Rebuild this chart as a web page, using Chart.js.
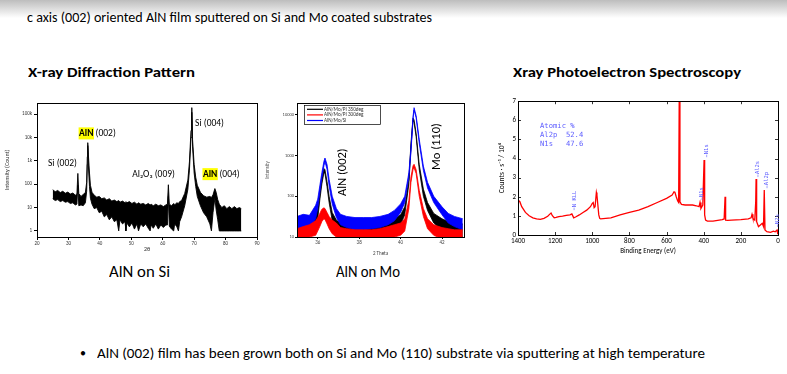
<!DOCTYPE html>
<html><head><meta charset="utf-8">
<script src="https://cdn.jsdelivr.net/npm/chart.js@4.4.1/dist/chart.umd.min.js"></script>
<style>
html,body{margin:0;padding:0;background:#fff;}
body{width:787px;height:374px;position:relative;overflow:hidden;font-family:Carlito,Lato,"Open Sans",sans-serif;color:#000;}
.topbar{position:absolute;left:0;top:0;width:787px;height:18px;background:linear-gradient(#bdbdbd,#ffffff);}
.t{position:absolute;white-space:nowrap;line-height:1;transform-origin:0 50%;}
canvas{position:absolute;}
</style></head>
<body>
<div class="topbar"></div>
<div class="t" data-w="405" style="left:27px;top:11px;font-size:14px;">c axis (002) oriented AlN film sputtered on Si and Mo coated substrates</div>
<div class="t" data-w="167" style="left:28px;top:66px;font-size:14px;font-weight:bold;">X-ray Diffraction Pattern</div>
<div class="t" data-w="228" style="left:513px;top:66px;font-size:14px;font-weight:bold;">Xray Photoelectron Spectroscopy</div>
<div class="t" data-w="61" style="left:109px;top:264px;font-size:16px;">AlN on Si</div>
<div class="t" data-w="64" style="left:336px;top:264px;font-size:16px;">AlN on Mo</div>
<div class="t" style="left:80px;top:347px;font-size:12px;">•</div>
<div class="t" data-w="608" style="left:97px;top:347px;font-size:14px;">AlN (002) film has been grown both on Si and Mo (110) substrate via sputtering at high temperature</div>
<canvas id="c1" width="265" height="170" style="left:0;top:95px"></canvas>
<canvas id="c2" width="216" height="170" style="left:262px;top:95px"></canvas>
<canvas id="c3" width="297" height="170" style="left:490px;top:95px"></canvas>
<script>
// ---------- XRD: AlN on Si (noise band given as upper / lower envelope) ----------
const siX      = [25,25.8,26.6,27.4,28.2,29,29.8,30.6,31.4,32.2,32.7,33.0,33.3,34,34.7,35.4,35.8,36.0,36.15,36.35,36.7,37.0,37.5,38.2,39,39.8,40.6,41.4,42.2,43,43.8,44.6,45.4,46,46.4,47.2,48,48.3,48.6,49.4,50.2,51,51.8,52.3,53,53.8,54.6,55.4,56,56.3,57,57.8,58.6,59.4,60.2,61,61.5,61.8,62.1,62.8,63.5,63.8,64.5,65,65.4,66,67,68,68.5,69.0,69.25,69.5,70,70.5,71,72,73,74,75,75.5,76,76.6,77,77.5,78,78.8,79.6,80.4,81.2,82,82.8,83.6,84.4,85];
const siUpper  = [58,48,54,44,50,41,46,38,42,34,38,290,40,30,36,45,120,1500,6000,1800,300,90,45,34,28,30,24,26,21,24,19,21,18,20,17,19,16,18,16,18,15,17,14,16,14,15,13,15,13,14,12,14,12,13,11,13,14,95,14,12,15,13,16,15,18,20,40,150,900,20000,190000,8000,700,200,90,45,32,28,30,27,35,65,45,22,14,10,12,9,11,9,11,9,10,9];
const siLower  = [24,20,22,18,20,17,18,15,16,13,14,90,12,13,12,16,50,700,4500,600,80,25,14,9,10,6,7,4,5,3,4,2.5,3,1,3,2,2.5,1,2.2,1.5,2.2,1.2,2,1,2,1.5,2,1.3,1,1.8,1.3,2,1.2,1.8,1.4,1.8,1.8,30,1.6,1.2,1,2,1.5,1,2.5,4,12,60,400,10000,120000,4000,300,80,30,12,6,4,2,1,6,25,8,3,1,1,1,1,1,1,1,1,1,1];
const siXTicks = [20,30,40,50,60,70,80,90];
const siYTicks = [1,10,100,1000,10000,100000];
const siYTickLabels = ['1','10','100','1k','10k','100k'];
const siNotes = [
  {hl:'', t:'Si (002)', x:23.5, y:780},
  {hl:'AlN', t:' (002)', x:33.4, y:15000},
  {hl:'', t:'Si (004)', x:70.3, y:40000},
  {hl:'', t:'Al\u2082O\u2083 (009)', x:50.3, y:270},
  {hl:'AlN', t:' (004)', x:72.8, y:270}
];

// ---------- XRD: AlN on Mo ----------
const moX        = [35.0,35.3,35.6,35.9,36.0,36.1,36.2,36.3,36.35,36.45,36.55,36.7,36.9,37.1,37.4,37.8,38.2,38.6,39.0,39.4,39.7,40.0,40.2,40.4,40.5,40.6,40.65,40.75,40.9,41.1,41.3,41.6,42.0,42.3,42.6,43.0];
const blackUpper = [24,25,24,35,50,120,280,480,450,230,100,40,26,22,22,21,21,22,22,25,28,35,55,260,2000,8300,7500,3500,600,150,70,38,28,24,22,21];
const blackLower = [11,11,11,16,28,80,200,380,360,170,70,25,14,11,10,10,10,10,11,12,14,20,35,200,1600,7300,6500,2900,450,100,45,22,14,12,11,10];
const redUpper   = [16,18,20,25,30,38,48,52,50,40,32,26,22,17,16,15,15,15,16,18,20,22,28,80,300,560,610,450,140,50,28,20,17,16,15,15];
const redLower   = [9,9,10,11,14,18,24,28,27,21,16,12,10,9,9,9,9,9,9,9,10,11,14,50,220,450,500,360,100,32,16,11,9,9,9,9];
const blueUpper  = [32,36,34,60,85,180,380,720,870,600,260,100,50,36,32,30,30,30,32,36,45,65,100,380,1500,9000,15000,9500,2500,550,220,100,55,38,32,28];
const blueLower  = [15,16,15,28,50,120,280,560,700,460,180,65,30,20,17,15,15,16,17,20,25,40,70,300,1200,8000,13000,8500,2000,430,160,70,35,22,18,15];
const moSeries   = ['AlN/Mo/PI 350deg','AlN/Mo/PI 300deg','AlN/Mo/Si'];
const moColors   = ['#000000','#ff0000','#0000ff'];
const moXTicks   = [36,38,40,42];
const moYTicks   = [10,100,1000,10000];
const moYTickLabels = ['10','100','1000','10000'];
const moNotes = [{t:'AlN (002)', x:37.2, y:390},{t:'Mo (110)', x:41.76, y:1660}];

// ---------- XPS survey ----------
const xpsE = [1400,1390,1380,1360,1340,1320,1300,1280,1260,1240,1230,1222,1215,1205,1195,1180,1160,1140,1120,1110,1105,1100,1090,1070,1050,1030,1010,1000,995,990,985,978,975,970,965,960,955,900,850,800,750,700,650,600,570,560,555,548,540,535,532,528,520,500,460,440,425,420,415,405,398,395,390,380,350,300,290,285,282,270,250,200,160,145,140,135,125,120,118,115,105,95,85,78,74,70,60,40,25,15,5,2,0];
const xpsCounts = [1.83,1.74,1.48,1.18,1.01,0.9,0.84,0.82,0.87,0.98,1.08,1.15,1.01,0.9,0.92,0.96,0.99,1.03,1.05,1.1,1.0,0.9,0.94,1.05,1.18,1.3,1.48,1.65,1.7,1.43,1.48,2.23,2.09,1.57,1.05,0.87,0.84,0.9,1.05,1.18,1.3,1.48,1.7,1.92,2.09,2.26,2.23,2.0,1.78,1.7,6.97,1.74,1.6,1.57,1.57,1.53,1.48,1.7,1.39,1.57,3.92,1.05,0.78,0.73,0.73,0.8,0.84,2.0,0.78,0.77,0.78,0.8,0.84,0.9,1.08,0.87,0.78,1.74,2.93,0.7,0.44,0.52,0.61,0.44,2.35,0.26,0.17,0.14,0.2,0.17,0.26,0.08,0.05];
const xpsPeakLabels = [
  {t:'N KLL', e:1098, y:1.3},
  {t:'N1s', e:409, y:1.83},
  {t:'N1s', e:384, y:4.07},
  {t:'Al2s', e:108, y:3.03},
  {t:'Al2p', e:59, y:2.45},
  {t:'N2s', e:2, y:0.42}
];
const xpsAtomic = ['Atomic %','Al2p  52.4','N1s   47.6'];

// fit slide text widths
document.querySelectorAll('.t[data-w]').forEach(el=>{
  const w = el.getBoundingClientRect().width;
  el.style.transform = 'scaleX(' + (parseFloat(el.dataset.w)/w) + ')';
});

const FONT = 'Carlito, Lato, "Open Sans", sans-serif';
const frame = {id:'frame', afterDraw(chart){
  const {ctx, chartArea:a} = chart; ctx.save(); ctx.strokeStyle='#000'; ctx.lineWidth=1;
  ctx.strokeRect(Math.round(a.left)+0.5, Math.round(a.top)+0.5, Math.round(a.right-a.left), Math.round(a.bottom-a.top));
  ctx.restore();
}};
function pts(xs, ys){ return xs.map((x,i)=>({x:x, y:ys[i]})); }
function band(xs, up, lo, color, order, bw){
  return [
    {data:pts(xs,up), borderColor:color, backgroundColor:color, borderWidth:bw, pointRadius:0, fill:'+1', order:order, tension:0},
    {data:pts(xs,lo), borderColor:color, backgroundColor:color, borderWidth:bw, pointRadius:0, fill:false, order:order, tension:0}
  ];
}
const common = {animation:false, responsive:false, events:[], plugins:{legend:{display:false}, tooltip:{enabled:false}}};

// ---------- Chart 1 ----------
new Chart(document.getElementById('c1'), {
  type:'line',
  data:{datasets: band(siX, siUpper, siLower, '#000', 0, 0.9)},
  options:Object.assign({}, common, {
    layout:{padding:{left:0,right:8,top:8,bottom:0}},
    scales:{
      x:{type:'linear', min:20, max:90,
         afterBuildTicks(s){ s.ticks = siXTicks.map(v=>({value:v})); },
         afterFit(s){ s.height = 28; },
         grid:{drawOnChartArea:false, tickLength:3, color:'#000'}, border:{color:'#000'},
         ticks:{font:{size:5, family:FONT}, color:'#333', padding:1, maxRotation:0},
         title:{display:true, text:'2\u03b8', font:{size:6, family:FONT}, color:'#333', padding:{top:0,bottom:12}}},
      y:{type:'logarithmic', min:0.55, max:300000,
         afterBuildTicks(s){ s.ticks = siYTicks.map(v=>({value:v})); },
         afterFit(s){ s.width = 37; },
         grid:{drawOnChartArea:false, tickLength:3, color:'#000'}, border:{color:'#000'},
         ticks:{font:{size:5, family:FONT}, color:'#333', padding:2, callback:(v,i)=>siYTickLabels[i]},
         title:{display:true, text:'Intensity (Count)', font:{size:6, family:FONT}, color:'#333', padding:{top:4,bottom:0}}}
    }
  }),
  plugins:[frame, {id:'siNotes', afterDatasetsDraw(chart){
    const {ctx, scales:{x,y}} = chart; ctx.save(); ctx.textBaseline='middle';
    siNotes.forEach(n=>{
      let px = x.getPixelForValue(n.x), py = y.getPixelForValue(n.y);
      if(n.hl){
        ctx.font = 'bold 9.5px ' + FONT;
        const w = ctx.measureText(n.hl).width;
        ctx.fillStyle = '#ffff00'; ctx.fillRect(px-0.5, py-6, w+1, 12);
        ctx.fillStyle = '#000'; ctx.fillText(n.hl, px, py); px += w;
      }
      ctx.font = '9.5px ' + FONT; ctx.fillStyle = '#000'; ctx.fillText(n.t, px, py);
    });
    ctx.restore();
  }}]
});

// ---------- Chart 2 ----------
new Chart(document.getElementById('c2'), {
  type:'line',
  data:{datasets: [].concat(
    band(moX, blackUpper, blackLower, moColors[0], 2, 0.8),
    band(moX, redUpper, redLower, moColors[1], 0, 0.8),
    band(moX, blueUpper, blueLower, moColors[2], 1, 0.8))},
  options:Object.assign({}, common, {
    layout:{padding:{left:0,right:14,top:8,bottom:0}},
    scales:{
      x:{type:'linear', min:35, max:43.06,
         afterBuildTicks(s){ s.ticks = moXTicks.map(v=>({value:v})); },
         afterFit(s){ s.height = 28; },
         grid:{drawOnChartArea:false, tickLength:2, color:'#000'}, border:{color:'#000'},
         ticks:{font:{size:5, family:FONT}, color:'#444', padding:1, maxRotation:0},
         title:{display:true, text:'2 Theta', font:{size:5, family:FONT}, color:'#444', padding:{top:0,bottom:8}}},
      y:{type:'logarithmic', min:10, max:19500,
         afterBuildTicks(s){ s.ticks = moYTicks.map(v=>({value:v})); },
         afterFit(s){ s.width = 35; },
         grid:{drawOnChartArea:false, tickLength:2, color:'#000'}, border:{color:'#000'},
         ticks:{font:{size:4.5, family:FONT}, color:'#444', padding:1, callback:(v,i)=>moYTickLabels[i]},
         title:{display:true, text:'Intensity', font:{size:5, family:FONT}, color:'#444', padding:{top:3,bottom:0}}}
    }
  }),
  plugins:[frame, {id:'moNotes', afterDatasetsDraw(chart){
    const {ctx, chartArea:a, scales:{x,y}} = chart; ctx.save();
    const lx = a.left + 7, ly = a.top + 2;
    ctx.fillStyle = '#fff'; ctx.fillRect(lx, ly, 76, 19);
    ctx.strokeStyle = '#000'; ctx.lineWidth = 0.7; ctx.strokeRect(lx+0.5, ly+0.5, 76, 19);
    ctx.font = '5.2px ' + FONT; ctx.textBaseline = 'middle';
    moSeries.forEach((s,i)=>{
      const yy = ly + 4.3 + i*5.6;
      ctx.strokeStyle = moColors[i]; ctx.lineWidth = 1.2;
      ctx.beginPath(); ctx.moveTo(lx+3, yy); ctx.lineTo(lx+19, yy); ctx.stroke();
      ctx.fillStyle = '#333'; ctx.fillText(s, lx+20, yy);
    });
    ctx.fillStyle = '#000'; ctx.font = '12.5px ' + FONT; ctx.textAlign = 'center'; ctx.textBaseline = 'middle';
    moNotes.forEach(n=>{
      ctx.save(); ctx.translate(x.getPixelForValue(n.x), y.getPixelForValue(n.y)); ctx.rotate(-Math.PI/2);
      ctx.fillText(n.t, 0, 0); ctx.restore();
    });
    ctx.restore();
  }}]
});

// ---------- Chart 3 ----------
new Chart(document.getElementById('c3'), {
  type:'line',
  data:{datasets:[{data:pts(xpsE, xpsCounts), borderColor:'#ff0000', borderWidth:1.3, pointRadius:0, fill:false, tension:0}]},
  options:Object.assign({}, common, {
    layout:{padding:{left:0,right:9,top:6,bottom:0}},
    scales:{
      x:{type:'linear', min:0, max:1400, reverse:true,
         afterFit(s){ s.height = 30; },
         grid:{drawOnChartArea:false, drawTicks:false}, border:{color:'#000'},
         ticks:{stepSize:200, font:{size:7, family:FONT}, color:'#000', padding:2, maxRotation:0, callback:v=>String(v)},
         title:{display:true, text:'Binding Energy (eV)', font:{size:7, family:FONT}, color:'#000', padding:{top:0,bottom:10}}},
      y:{type:'linear', min:0, max:7,
         afterFit(s){ s.width = 28; },
         grid:{drawOnChartArea:false, drawTicks:false}, border:{color:'#000'},
         ticks:{stepSize:1, font:{size:7, family:FONT}, color:'#000', padding:2, callback:v=>String(v)},
         title:{display:true, text:'Counts \u00b7 s\u207b\u00b9 / 10\u2074', font:{size:7.5, family:FONT}, color:'#000', padding:{top:8,bottom:0}}}
    }
  }),
  plugins:[frame, {id:'xpsNotes', afterDraw(chart){
    const {ctx, chartArea:a, scales:{x,y}} = chart; ctx.save();
    ctx.strokeStyle = '#000'; ctx.lineWidth = 0.8;
    x.ticks.forEach(t=>{ const px = Math.round(x.getPixelForValue(t.value))+0.5;
      ctx.beginPath(); ctx.moveTo(px,a.bottom); ctx.lineTo(px,a.bottom-3); ctx.moveTo(px,a.top); ctx.lineTo(px,a.top+3); ctx.stroke(); });
    y.ticks.forEach(t=>{ const py = Math.round(y.getPixelForValue(t.value))+0.5;
      ctx.beginPath(); ctx.moveTo(a.left,py); ctx.lineTo(a.left+3,py); ctx.moveTo(a.right,py); ctx.lineTo(a.right-3,py); ctx.stroke(); });
    ctx.fillStyle = '#6060ff'; ctx.font = '7.2px "DejaVu Sans Mono", "Liberation Mono", monospace'; ctx.textBaseline = 'middle';
    xpsAtomic.forEach((s,i)=> ctx.fillText(s, a.left+22, a.top+25 + i*9));
    ctx.font = '5.5px "DejaVu Sans Mono", "Liberation Mono", monospace';
    xpsPeakLabels.forEach(p=>{
      const px = x.getPixelForValue(p.e), py = y.getPixelForValue(p.y);
      ctx.save(); ctx.translate(px, py); ctx.rotate(-Math.PI/2);
      ctx.strokeStyle = '#6060ff'; ctx.lineWidth = 0.6;
      ctx.beginPath(); ctx.moveTo(0,0); ctx.lineTo(2.5,0); ctx.stroke();
      ctx.textBaseline = 'middle'; ctx.fillText(p.t, 3, 0); ctx.restore();
    });
    ctx.restore();
  }}]
});
</script>
</body></html>
